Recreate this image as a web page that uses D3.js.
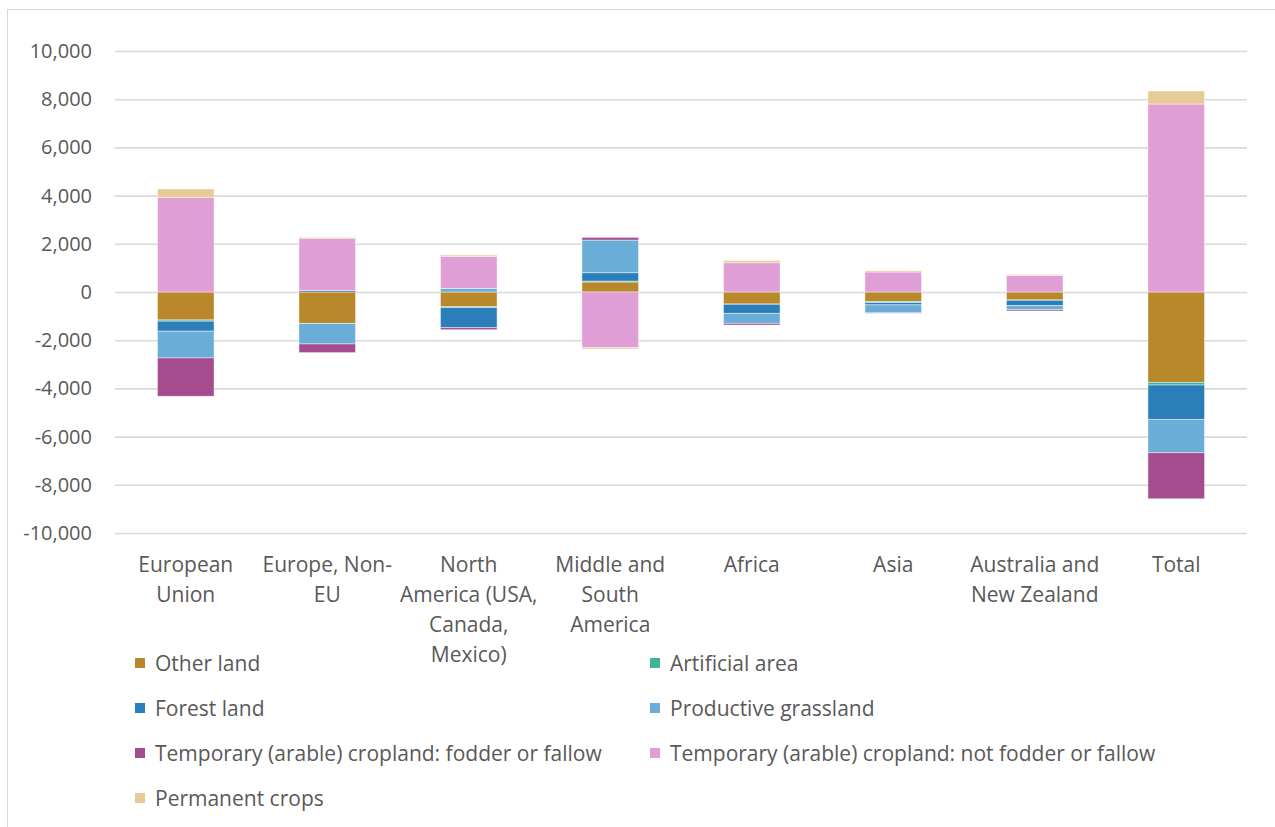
<!DOCTYPE html>
<html>
<head>
<meta charset="utf-8">
<script src="https://cdn.jsdelivr.net/npm/d3@7"></script>
<style>
  html, body { margin: 0; padding: 0; background: #fff; }
  svg { display: block; }
  text { font-family: "Open Sans", Lato, sans-serif; fill: #595959; }
</style>
</head>
<body>
<svg id="chart" width="1275" height="827"></svg>
<script>
// Land-use change by region (stacked, positive up / negative down)
const categories = [
  ["European", "Union"],
  ["Europe, Non-", "EU"],
  ["North", "America (USA,", "Canada,", "Mexico)"],
  ["Middle and", "South", "America"],
  ["Africa"],
  ["Asia"],
  ["Australia and", "New Zealand"],
  ["Total"]
];

const seriesNames = [
  "Other land",
  "Artificial area",
  "Forest land",
  "Productive grassland",
  "Temporary (arable) cropland: fodder or fallow",
  "Temporary (arable) cropland: not fodder or fallow",
  "Permanent crops"
];

const otherLand   = [-1160, -1300,  -610,   415, -500, -400, -330, -3750];
const artificial  = [  -50,   -10,   -40,    40,  -10,  -40,  -15,  -110];
const forestLand  = [ -415,    60,  -830,   345, -375,  -95, -220, -1425];
const grassland   = [-1110,  -845,   150,  1355, -415, -330, -165, -1385];
const fodder      = [-1590,  -360,   -85,   110,  -70,  -15,  -55, -1910];
const notFodder   = [ 3930,  2170,  1330, -2310, 1215,  830,  690,  7800];
const permanent   = [  345,    40,    55,   -55,   95,   55,   40,   540];

const yTicks = [10000, 8000, 6000, 4000, 2000, 0, -2000, -4000, -6000, -8000, -10000];

const colors = ["#B8882B", "#40B39B", "#2A7EBA", "#6AAED8", "#A54C8E", "#DF9ED5", "#E7CB96"];

const seriesValues = [otherLand, artificial, forestLand, grassland, fodder, notFodder, permanent];
const rows = categories.map((c, i) => {
  const r = { key: i };
  seriesNames.forEach((s, j) => { r[s] = seriesValues[j][i]; });
  return r;
});

const svg = d3.select("#chart");

// chart frame
svg.append("rect")
  .attr("x", 7.5).attr("y", 9.5)
  .attr("width", 1300).attr("height", 900)
  .attr("fill", "#fff").attr("stroke", "#d9d9d9").attr("stroke-width", 1);

const x = d3.scaleBand()
  .domain(d3.range(categories.length))
  .range([115, 1247])
  .paddingInner(0.6)
  .paddingOuter(0.3);

const y = d3.scaleLinear().domain([-10000, 10000]).range([533, 51]);

// thousands separator with a plain hyphen for negatives
const fmt = d3.format(",");
const tickFmt = v => fmt(v).replace("\u2212", "-");

// gridlines
const yAxis = d3.axisLeft(y)
  .tickValues(yTicks)
  .tickSize(-(1247 - 115))
  .tickPadding(23)
  .tickFormat(tickFmt);

const gy = svg.append("g").attr("transform", "translate(115,0)").call(yAxis);
gy.select(".domain").remove();
gy.selectAll(".tick line").attr("stroke", "#d9d9d9").attr("stroke-width", 1.6);
gy.selectAll(".tick text")
  .attr("font-size", 20)
  .style("font-family", "'Open Sans', Lato, sans-serif")
  .attr("fill", "#595959");

// stacked bars
const stack = d3.stack().keys(seriesNames).offset(d3.stackOffsetDiverging);
const layers = stack(rows);

svg.append("g").selectAll("g")
  .data(layers)
  .join("g")
  .attr("fill", (d, i) => colors[i])
  .selectAll("rect")
  .data(d => d)
  .join("rect")
  .attr("x", (d, i) => x(i))
  .attr("width", x.bandwidth())
  .attr("y", d => y(Math.max(d[0], d[1])))
  .attr("height", d => Math.abs(y(d[0]) - y(d[1])))
  .attr("stroke", "#ffffff")
  .attr("stroke-opacity", 0.55)
  .attr("stroke-width", 0.8);

// category labels
const lab = svg.append("g");
categories.forEach((lines, i) => {
  const t = lab.append("text")
    .attr("text-anchor", "middle")
    .attr("font-size", 21)
    .attr("x", x(i) + x.bandwidth() / 2)
    .attr("y", 572);
  lines.forEach((ln, k) => {
    t.append("tspan")
      .attr("x", x(i) + x.bandwidth() / 2)
      .attr("dy", k === 0 ? 0 : 30)
      .text(ln);
  });
});

// legend
const legendPos = [
  [135, 663], [650, 663],
  [135, 708], [650, 708],
  [135, 753], [650, 753],
  [135, 798]
];
const lg = svg.append("g");
seriesNames.forEach((s, i) => {
  const [lx, ly] = legendPos[i];
  lg.append("rect")
    .attr("x", lx).attr("y", ly - 5)
    .attr("width", 10).attr("height", 10)
    .attr("fill", colors[i]);
  lg.append("text")
    .attr("x", lx + 20).attr("y", ly + 8)
    .attr("font-size", 21)
    .text(s);
});
</script>
</body>
</html>
